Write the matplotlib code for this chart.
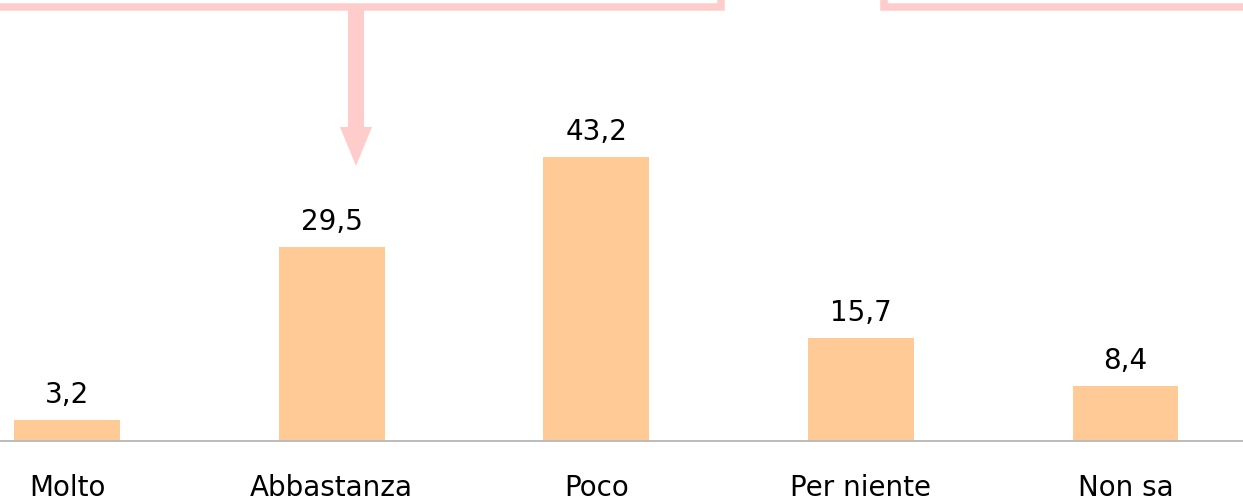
import matplotlib
matplotlib.use("Agg")
import matplotlib.pyplot as plt
from matplotlib.patches import Polygon

categories = ["Molto", "Abbastanza", "Poco", "Per niente", "Non sa"]
values = [3.2, 29.5, 43.2, 15.7, 8.4]
value_labels = ["3,2", "29,5", "43,2", "15,7", "8,4"]

W, H = 1243, 500
fig = plt.figure(figsize=(W / 100, H / 100), dpi=100)
plt.rcParams['font.family'] = ['DejaVu Sans']

base_px = 441
ax = fig.add_axes([0, (H - base_px) / H, 1, base_px / H])
x = list(range(len(categories)))
ax.bar(x, values, width=0.4, color="#FFCA96", zorder=2)
ax.set_xlim(-0.253, 4.444)
ax.set_ylim(0, base_px / 6.574)

for xi, v, lab in zip(x, values, value_labels):
    ax.annotate(lab, (xi, v), xytext=(0, 8), textcoords="offset points",
                ha="center", va="bottom", fontsize=20, color="black")

ax.set_xticks(x)
ax.set_xticklabels(categories, fontsize=20, color="black")
ax.tick_params(axis="x", length=0, pad=24)
ax.set_yticks([])
for s in ["top", "right", "left"]:
    ax.spines[s].set_visible(False)
ax.spines["bottom"].set_color("#BBBBBB")
ax.spines["bottom"].set_linewidth(1.4)
ax.patch.set_alpha(0)

pink = "#FFCCCC"
def fx(px):
    return px / W
def fy(py):
    return 1 - py / H

lw = 7.5 * 72 / 100
# left box (bottom and right edges visible)
fig.add_artist(plt.Line2D([fx(-10), fx(721), fx(721)], [fy(7), fy(7), fy(-10)],
                          transform=fig.transFigure, color=pink, lw=lw,
                          solid_joinstyle="miter"))
# right box
fig.add_artist(plt.Line2D([fx(884), fx(884), fx(W + 10)], [fy(-10), fy(7), fy(7)],
                          transform=fig.transFigure, color=pink, lw=lw,
                          solid_joinstyle="miter"))
# arrow stem and head
fig.add_artist(Polygon([(fx(348), fy(9)), (fx(364), fy(9)), (fx(364), fy(127)),
                        (fx(372), fy(127)), (fx(356), fy(166)), (fx(340), fy(127)),
                        (fx(348), fy(127))], closed=True, transform=fig.transFigure,
                       facecolor=pink, edgecolor="none"))

fig.savefig("out.png", dpi=100)
